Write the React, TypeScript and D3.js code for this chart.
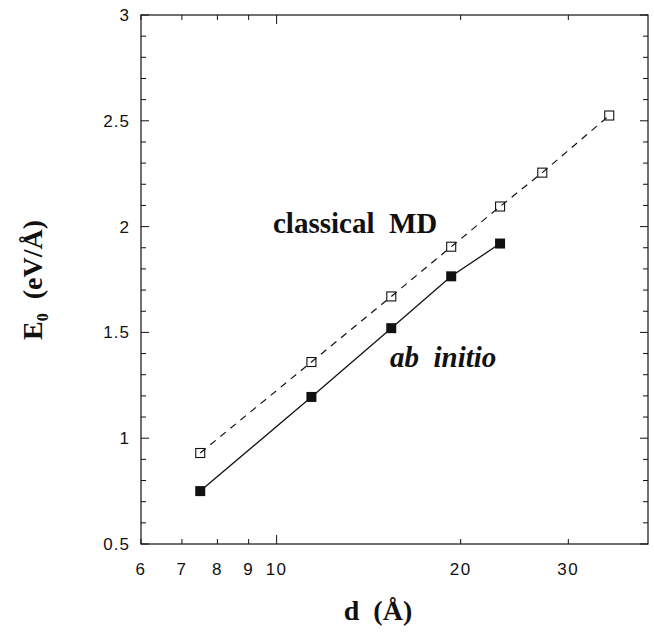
import React from "react";
import * as d3 from "d3";

// values
const dClassical = [7.5, 11.4, 15.4, 19.3, 23.2, 27.2, 35.0];
const eClassical = [0.93, 1.36, 1.67, 1.905, 2.095, 2.255, 2.525];
const dAbInitio = [7.5, 11.4, 15.4, 19.3, 23.2];
const eAbInitio = [0.75, 1.195, 1.52, 1.765, 1.92];

const xTicks = [6, 7, 8, 9, 10, 20, 30];
const xMajor = [10];
const yTickLabels = [0.5, 1, 1.5, 2, 2.5, 3];
const yMinorTicks = d3.range(5, 31).map((v) => v / 10);

const W = 654;
const H = 635;
const left = 141;
const right = 648;
const top = 15;
const bottom = 544;

export default function App() {
  const x = d3.scaleLog().domain([6, 40.5]).range([left, right]);
  const y = d3.scaleLinear().domain([0.5, 3]).range([bottom, top]);

  const line = d3
    .line<[number, number]>()
    .x((p) => x(p[0]))
    .y((p) => y(p[1]));

  const classical: [number, number][] = dClassical.map((d, i) => [d, eClassical[i]]);
  const abInitio: [number, number][] = dAbInitio.map((d, i) => [d, eAbInitio[i]]);

  const tickFont = "'Liberation Sans', Arial, sans-serif";
  const serif = "'Liberation Serif', 'Times New Roman', serif";

  return (
    <svg width={W} height={H} style={{ position: "absolute", left: 0, top: 0, background: "#fff" }}>
      {/* frame */}
      <rect x={left} y={top} width={right - left} height={bottom - top} fill="none" stroke="#111" strokeWidth={1.2} />

      {/* x ticks, bottom and top, pointing inward */}
      {xTicks.map((t) => {
        const len = xMajor.includes(t) ? 9 : 5;
        return (
          <g key={"xt" + t}>
            <line x1={x(t)} x2={x(t)} y1={bottom} y2={bottom - len} stroke="#111" strokeWidth={1} />
            <line x1={x(t)} x2={x(t)} y1={top} y2={top + len} stroke="#111" strokeWidth={1} />
            <text x={x(t)} y={575} textAnchor="middle" fontFamily={tickFont} fontSize={17} letterSpacing={1.5} fill="#111">
              {t}
            </text>
          </g>
        );
      })}

      {/* y ticks */}
      {yMinorTicks.map((t) => {
        const major = Math.abs(t * 2 - Math.round(t * 2)) < 1e-6;
        const len = major ? 8 : 5;
        return (
          <g key={"yt" + t}>
            <line x1={left} x2={left + len} y1={y(t)} y2={y(t)} stroke="#111" strokeWidth={1} />
            <line x1={right} x2={right - len} y1={y(t)} y2={y(t)} stroke="#111" strokeWidth={1} />
          </g>
        );
      })}
      {yTickLabels.map((t) => (
        <text key={"yl" + t} x={130} y={y(t)} dy="0.35em" textAnchor="end" fontFamily={tickFont} fontSize={17} letterSpacing={1} fill="#111">
          {t}
        </text>
      ))}

      {/* series lines */}
      <path d={line(classical) || ""} fill="none" stroke="#111" strokeWidth={1.2} strokeDasharray="7,6" />
      <path d={line(abInitio) || ""} fill="none" stroke="#111" strokeWidth={1.3} />

      {/* markers */}
      {classical.map((p, i) => (
        <rect key={"oc" + i} x={x(p[0]) - 4.5} y={y(p[1]) - 4.5} width={9} height={9} fill="none" stroke="#111" strokeWidth={1.1} />
      ))}
      {abInitio.map((p, i) => (
        <rect key={"ab" + i} x={x(p[0]) - 5} y={y(p[1]) - 5} width={10} height={10} fill="#111" />
      ))}

      {/* annotations */}
      <text x={273} y={233} fontFamily={serif} fontWeight="bold" fontSize={29} fill="#111" style={{ whiteSpace: "pre" }}>
        {"classical  MD"}
      </text>
      <text x={390} y={367} fontFamily={serif} fontWeight="bold" fontStyle="italic" fontSize={29} fill="#111" style={{ whiteSpace: "pre" }}>
        {"ab  initio"}
      </text>

      {/* axis titles */}
      <text x={378} y={620} textAnchor="middle" fontFamily={serif} fontWeight="bold" fontSize={28} fill="#111" style={{ whiteSpace: "pre" }}>
        {"d  (Å)"}
      </text>
      <text transform="translate(42,280) rotate(-90)" textAnchor="middle" fontFamily={serif} fontWeight="bold" fontSize={28} fill="#111" style={{ whiteSpace: "pre" }}>
        <tspan>E</tspan>
        <tspan fontSize={16} dy={6}>0</tspan>
        <tspan dy={-6}>{"  (eV/Å)"}</tspan>
      </text>
    </svg>
  );
}
